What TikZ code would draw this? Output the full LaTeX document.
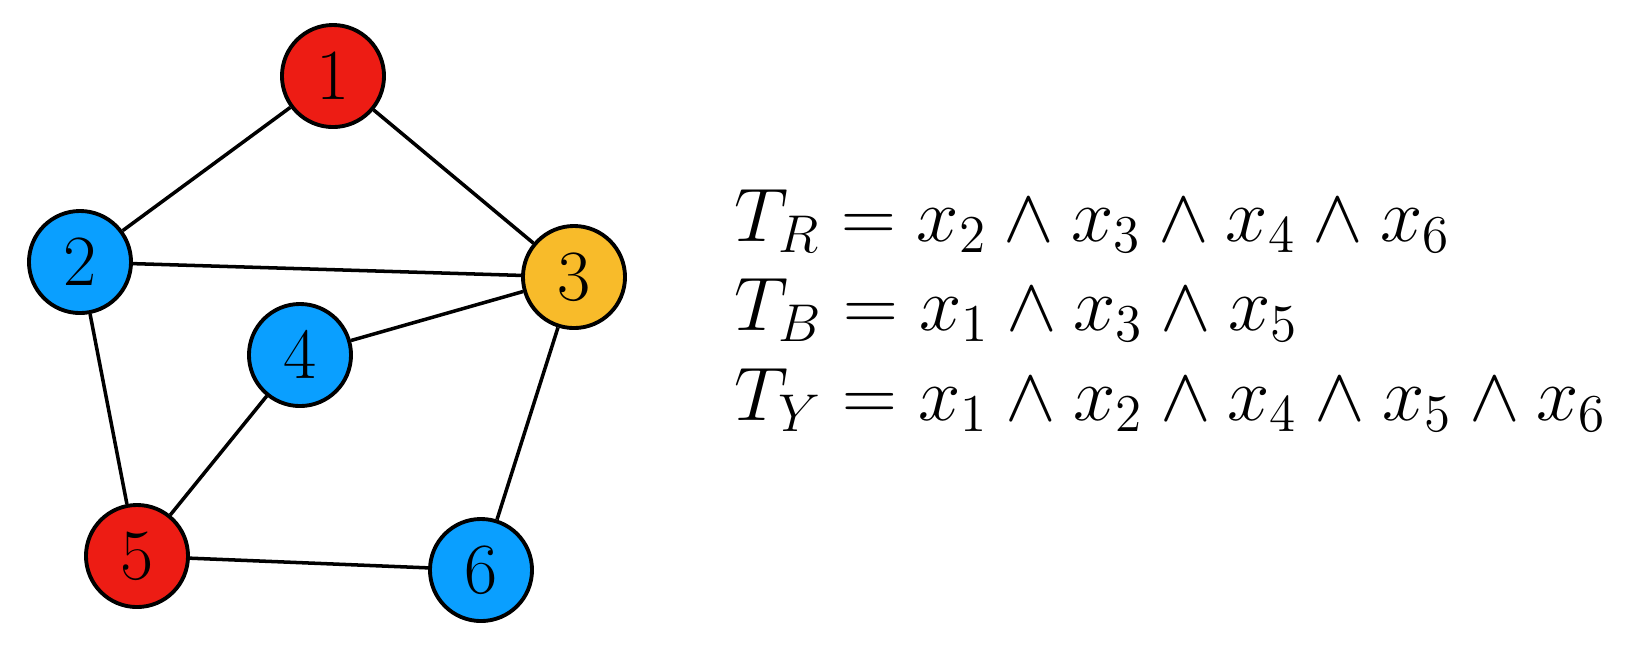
\RequirePackage{fix-cm}
\documentclass[tikz,border=0pt]{standalone}
\usepackage{amsmath,amssymb}
\usepackage{xcolor}
\usetikzlibrary{positioning}
\definecolor{vred}{RGB}{237,28,20}
\definecolor{vblue}{RGB}{10,159,255}
\definecolor{vyellow}{RGB}{248,187,42}

\begin{document}
\begin{tikzpicture}[x=0.01cm, y=-0.01cm,
  vertex/.style={circle, draw, line width=1.1pt, minimum size=1.02cm, inner sep=0pt,
    font=\fontsize{20.5}{24}\selectfont},
  edge/.style={line width=1pt},
  formula/.style={anchor=base west, inner sep=0pt, font=\fontsize{21.6}{26}\selectfont}]
  \useasboundingbox (0,0) rectangle (1626,650);
  \node[vertex, fill=vred]    (v1) at (333,76)  {$1$};
  \node[vertex, fill=vblue]   (v2) at (80,262)  {$2$};
  \node[vertex, fill=vyellow] (v3) at (574,277) {$3$};
  \node[vertex, fill=vblue]   (v4) at (300,355) {$4$};
  \node[vertex, fill=vred]    (v5) at (137,556) {$5$};
  \node[vertex, fill=vblue]   (v6) at (481,570) {$6$};
  \foreach \a/\b in {v1/v2,v1/v3,v2/v3,v2/v5,v3/v4,v3/v6,v4/v5,v5/v6} {
    \draw[edge] (\a) -- (\b);
  }
  \node[formula] (tr) at (734,241) {$T_R = x_2 \land x_3 \land x_4 \land x_6$};
  \node[formula] (tb) at (734,330) {$T_B = x_1 \land x_3 \land x_5$};
  \node[formula] (ty) at (734,420) {$T_Y = x_1 \land x_2 \land x_4 \land x_5 \land x_6$};
\end{tikzpicture}
\end{document}
